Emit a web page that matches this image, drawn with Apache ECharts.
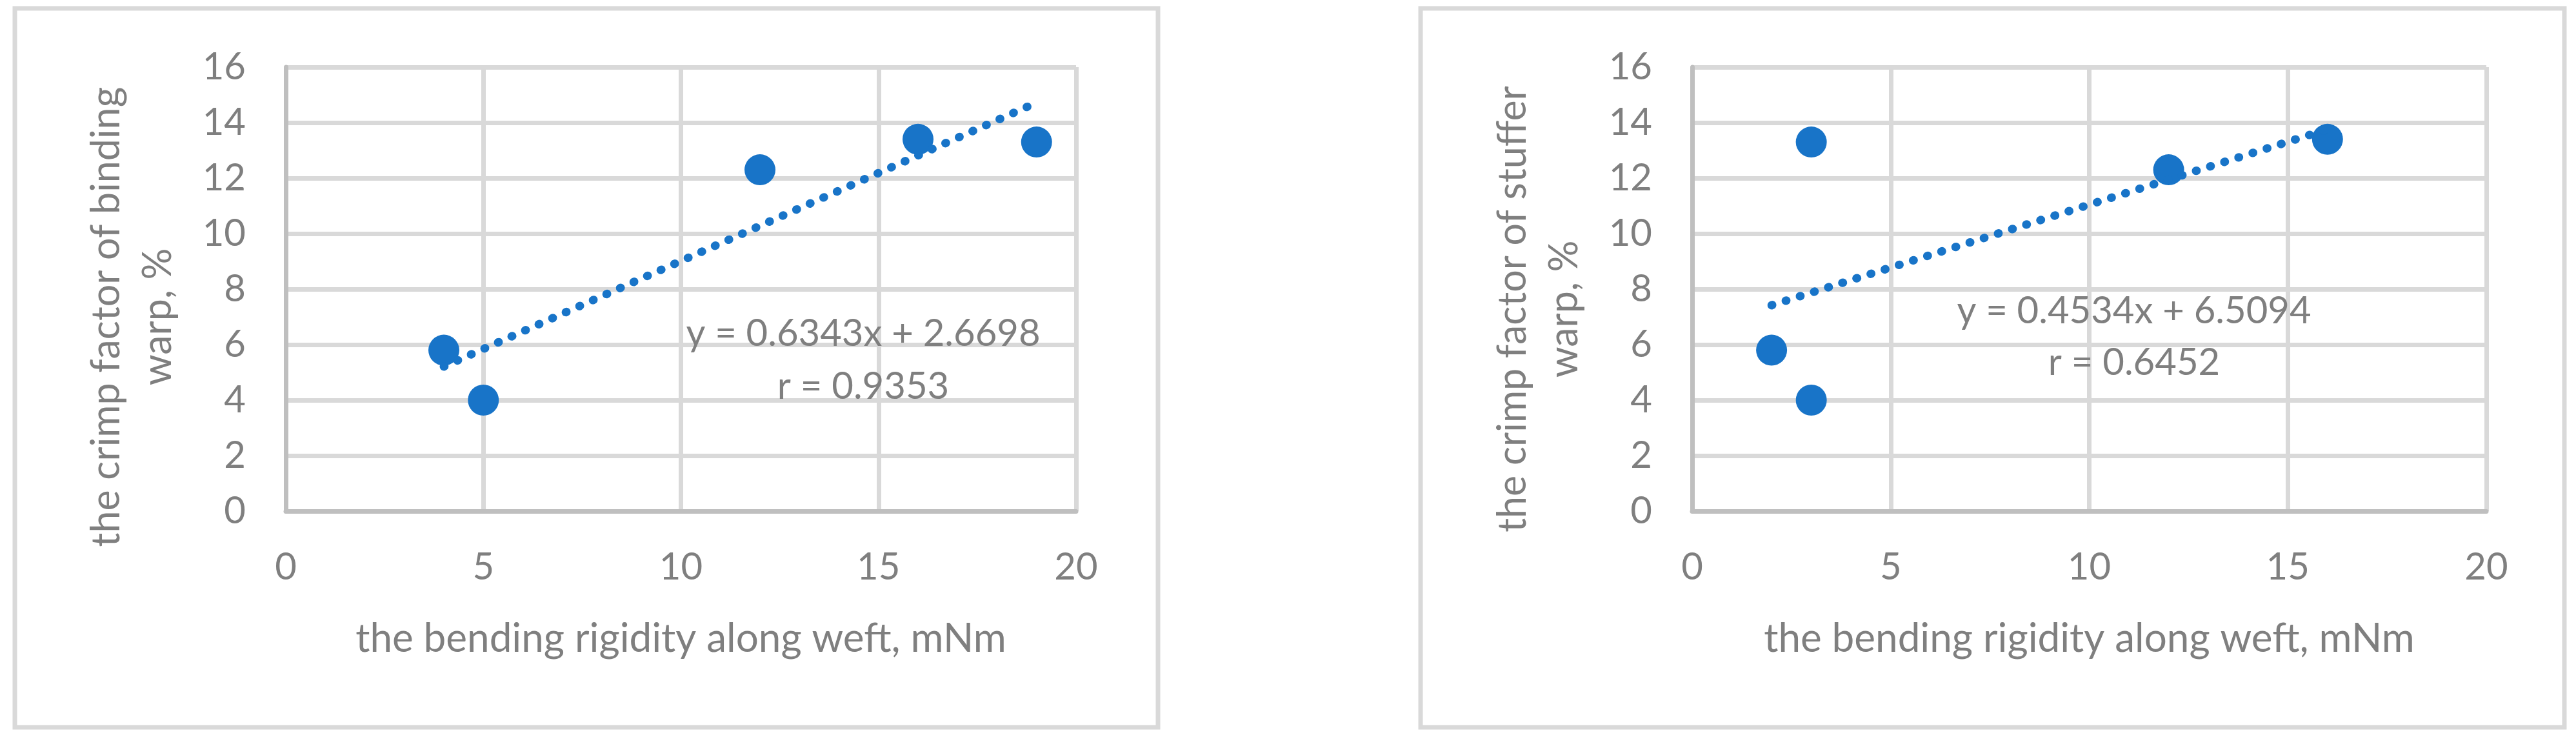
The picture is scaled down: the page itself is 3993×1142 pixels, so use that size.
<!DOCTYPE html>
<html>
<head>
<meta charset="utf-8">
<title>crimp factor vs bending rigidity</title>
<script src="https://cdn.jsdelivr.net/npm/echarts@6.0.0/dist/echarts.min.js"></script>
<style>
    html, body { margin: 0; padding: 0; background: #fff; }
    #main { width: 3993px; height: 1142px; }
</style>
</head>
<body>
<div id="main"></div>
<script>
// shared axes
var xTicks = [0, 5, 10, 15, 20];
var yTicks = [0, 2, 4, 6, 8, 10, 12, 14, 16];
var xName = 'the bending rigidity along weft, mNm';

// left chart: binding warp
var bindingX = [4, 5, 12, 16, 19];
var bindingY = [5.8, 4.0, 12.3, 13.4, 13.3];
var bindingTrendX = [4, 19];
var bindingTrendY = [5.21, 14.72];
var bindingName = 'the crimp factor of binding\nwarp, %';
var bindingEq = 'y = 0.6343x + 2.6698';
var bindingR = 'r = 0.9353';

// right chart: stuffer warp
var stufferX = [2, 3, 3, 12, 16];
var stufferY = [5.8, 4.0, 13.3, 12.3, 13.4];
var stufferTrendX = [2, 16];
var stufferTrendY = [7.42, 13.76];
var stufferName = 'the crimp factor of stuffer\nwarp, %';
var stufferEq = 'y = 0.4534x + 6.5094';
var stufferR = 'r = 0.6452';

var BLUE = '#1874c8';
var TEXT = '#7f7f7f';
var FONT = 'Lato';
var FS = 58;

function pairs(xs, ys) {
    return xs.map(function (x, i) { return [x, ys[i]]; });
}

function buildXAxis(gridIndex) {
    return {
        type: 'value',
        gridIndex: gridIndex,
        min: xTicks[0],
        max: xTicks[xTicks.length - 1],
        interval: xTicks[1] - xTicks[0],
        name: xName,
        nameLocation: 'middle',
        nameGap: 167,
        nameTextStyle: {color: TEXT, fontSize: 62, fontFamily: FONT},
        axisLine: {show: true, lineStyle: {color: '#bfbfbf', width: 7}},
        axisTick: {show: false},
        axisLabel: {color: TEXT, fontSize: FS, fontFamily: FONT, margin: 58},
        splitLine: {show: true, lineStyle: {color: '#d9d9d9', width: 7}}
    };
}

function buildYAxis(gridIndex, name, shift) {
    return {
        type: 'value',
        gridIndex: gridIndex,
        min: yTicks[0],
        max: yTicks[yTicks.length - 1],
        interval: yTicks[1] - yTicks[0],
        name: name,
        nameLocation: 'middle',
        nameRotate: 90,
        nameGap: 158,
        nameTextStyle: {
            color: TEXT, fontSize: 61, fontFamily: FONT, lineHeight: 80,
            align: 'center', padding: [0, shift, 0, 0]
        },
        axisLine: {show: true, onZero: false, lineStyle: {color: '#bfbfbf', width: 7}},
        axisTick: {show: false},
        axisLabel: {color: TEXT, fontSize: FS, fontFamily: FONT, margin: 62},
        splitLine: {show: true, lineStyle: {color: '#d9d9d9', width: 7}}
    };
}

function scatterSeries(idx, xs, ys) {
    return {
        type: 'scatter',
        xAxisIndex: idx,
        yAxisIndex: idx,
        symbolSize: 48,
        itemStyle: {color: BLUE, opacity: 1},
        data: pairs(xs, ys),
        z: 3
    };
}

function trendSeries(idx, xs, ys) {
    return {
        type: 'line',
        xAxisIndex: idx,
        yAxisIndex: idx,
        showSymbol: false,
        symbol: 'none',
        lineStyle: {color: BLUE, width: 13, type: [1, 22], cap: 'round'},
        data: pairs(xs, ys),
        z: 4
    };
}

function label(x, y, text) {
    return {
        type: 'text',
        x: x,
        y: y,
        style: {
            text: text, fill: TEXT, fontSize: FS, fontFamily: FONT,
            align: 'center', verticalAlign: 'middle'
        },
        z: 10
    };
}

function frame(x, y, w, h) {
    return {
        type: 'rect',
        shape: {x: x, y: y, width: w, height: h},
        style: {fill: null, stroke: '#d9d9d9', lineWidth: 7},
        silent: true
    };
}

var option = {
    backgroundColor: '#fff',
    animation: false,
    grid: [
        {left: 443, top: 104, width: 1225, height: 688},
        {left: 2623, top: 104, width: 1231, height: 688}
    ],
    xAxis: [buildXAxis(0), buildXAxis(1)],
    yAxis: [buildYAxis(0, bindingName, 86), buildYAxis(1, stufferName, 62)],
    series: [
        trendSeries(0, bindingTrendX, bindingTrendY),
        scatterSeries(0, bindingX, bindingY),
        trendSeries(1, stufferTrendX, stufferTrendY),
        scatterSeries(1, stufferX, stufferY)
    ],
    graphic: [
        frame(23, 13, 1772, 1114),
        frame(2202, 13, 1773, 1114),
        label(1338, 517, bindingEq),
        label(1338, 599, bindingR),
        label(3308, 482, stufferEq),
        label(3308, 562, stufferR)
    ]
};

var chart = echarts.init(document.getElementById('main'));
chart.setOption(option);
</script>
</body>
</html>
